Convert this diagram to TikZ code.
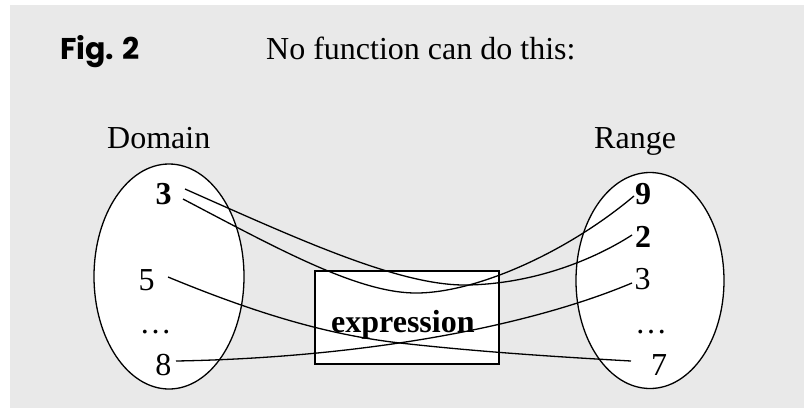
\documentclass[tikz,border=0pt]{standalone}
\usepackage{fontspec}
\setmainfont{Liberation Serif}
\newfontfamily\figfont{Poppins}
\definecolor{bggray}{HTML}{E9E9E9}
\tikzset{
  lbl/.style={font=\fontsize{32}{38}\selectfont, inner sep=0pt, anchor=base},
  blbl/.style={lbl, font=\fontsize{32}{38}\selectfont\bfseries},
  setshape/.style={draw=black, fill=white, line width=1.3pt},
  conn/.style={draw=black, line width=1.3pt},
}
\begin{document}
\begin{tikzpicture}[x=1pt,y=-1pt]
\useasboundingbox (0,0) rectangle (804,408);
\fill[bggray] (10,5) rectangle (804,408);
% titles
\node[inner sep=0pt, anchor=base west, font=\figfont\bfseries\fontsize{30}{36}\selectfont] (fig) at (60,59) {Fig. 2};
\node[lbl, anchor=base west] (title) at (266,59) {No function can do this:};
\node[lbl, anchor=base west] (domain) at (107,148) {Domain};
\node[lbl, anchor=base west] (range) at (594,148) {Range};
% sets
\draw[setshape] (169,276.5) ellipse [x radius=75, y radius=112.5];
\draw[setshape] (650,280.5) ellipse [x radius=74, y radius=108];
\node[setshape, line width=1.5pt, minimum width=184pt, minimum height=93pt, inner sep=0pt] (box) at (407,317.5) {};
\node[blbl, anchor=base west] (expr) at (331,332) {expression};
% domain labels
\node[blbl] (l3) at (163.5,204) {3};
\node[lbl] (l5) at (146.5,290) {5};
\node[lbl] (ldots) at (155.5,333) {\dots};
\node[lbl] (l8) at (163.3,375) {8};
% range labels
\node[blbl] (r9) at (643,204) {9};
\node[blbl] (r2) at (643,247) {2};
\node[lbl] (r3) at (642.5,289) {3};
\node[lbl] (rdots) at (651,333) {\dots};
\node[lbl] (r7) at (659,375) {7};
% connector ends
\coordinate (a0) at (185,189);
\coordinate (a1) at (632,235);
\coordinate (b0) at (183,199);
\coordinate (b1) at (634,196);
\coordinate (c0) at (168,277);
\coordinate (c1) at (631,361);
\coordinate (d0) at (176,361);
\coordinate (d1) at (632,283);
% connectors
\draw[conn] (a0) .. controls (300,240) and (400,286) .. (467,285) .. controls (530,284) and (590,262) .. (a1);
\draw[conn] (b0) .. controls (280,250) and (360,294) .. (418,293) .. controls (480,292) and (570,250) .. (b1);
\draw[conn] (c0) .. controls (260,315) and (330,335) .. (400,343) .. controls (480,352) and (560,357) .. (c1);
\draw[conn] (d0) .. controls (350,358) and (520,330) .. (d1);
\end{tikzpicture}
\end{document}
